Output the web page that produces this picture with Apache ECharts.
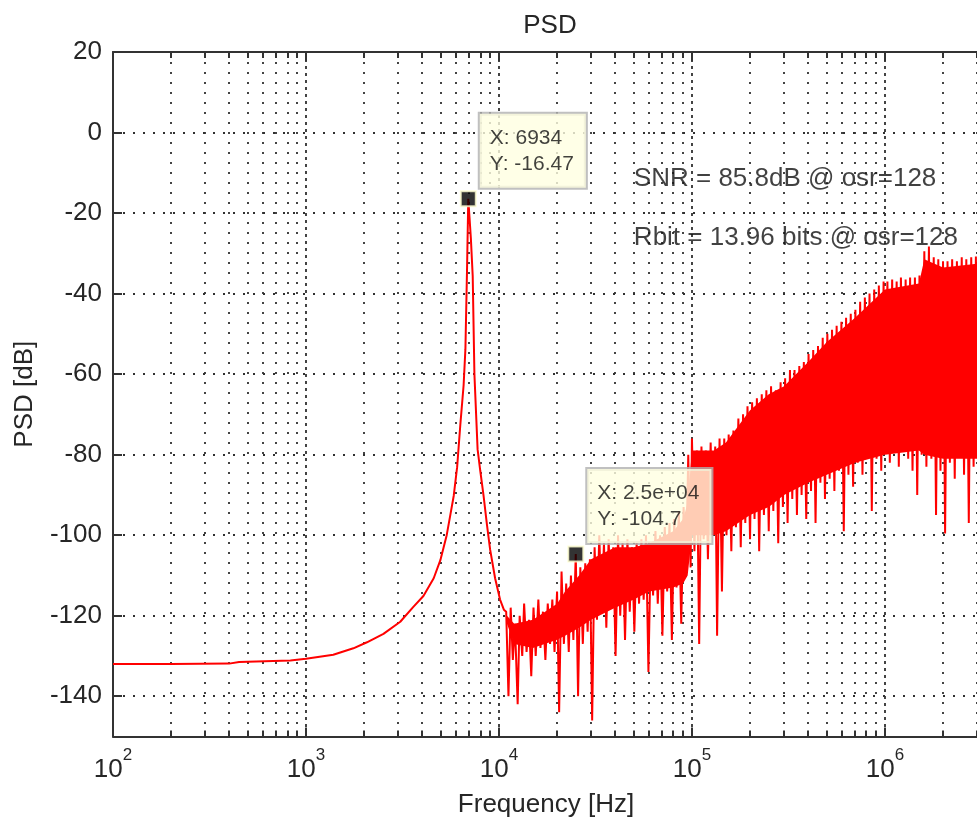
<!DOCTYPE html>
<html>
<head>
<meta charset="utf-8">
<script src="https://cdn.jsdelivr.net/npm/echarts@6/dist/echarts.min.js"></script>
<style>html,body{margin:0;padding:0;background:#fff}#chart{width:977px;height:821px}</style>
</head>
<body>
<div id="chart"></div>
<script>
// ---------- data ----------
const xMin = 100;
const xMax = 3072000;
const yMin = -150;
const yMax = 20;

const xMajorTicks = [100, 1000, 10000, 100000, 1000000];
const xMinorTicks = [200,300,400,500,600,700,800,900,
  2000,3000,4000,5000,6000,7000,8000,9000,
  20000,30000,40000,50000,60000,70000,80000,90000,
  200000,300000,400000,500000,600000,700000,800000,900000,
  2000000,3000000];
const yTicks = [-140, -120, -100, -80, -60, -40, -20, 0, 20];

// smooth part: flat floor + signal peak
const smoothFreq = [100, 200, 400, 450, 830, 1000, 1385, 1760, 2070, 2520, 3080, 3600, 4060, 4590, 4970, 5360, 5610, 5830, 6070, 6310, 6560, 6700, 6830, 6934, 7150, 7310, 7460, 7750, 8000, 8320, 8660, 9000, 9550, 10130, 10600];
const smoothPsd  = [-132, -132, -131.9, -131.5, -131.1, -130.7, -129.7, -128.1, -126.6, -124.5, -121.5, -117.8, -115.1, -110.7, -106.2, -100, -94.7, -90.2, -83.1, -72.4, -62.7, -53.8, -34.2, -16.47, -26.2, -35.6, -60, -78.7, -84, -90.2, -97.3, -103.6, -110.7, -116, -118.5];

// shaped noise, 10 kHz - 100 kHz (peaks and dips)
const noiseFreqA = [10900,11200,11500,11800,12100,12500,12800,13200,13500,13900,14300,14700,15100,15500,16000,16400,16900,17400,17900,18400,18900,19400,20000,20500,21100,21700,22300,23000,23600,24300,25000,25700,26400,27200,28000,28800,29600,30400,31300,32200,33100,34000,35000,36000,37000,38000,39100,40200,41400,42500,43700,45000,46300,47600,48900,50300,51700,53200,54700,56200,57800,59500,61200,62900,64700,66500,68400,70300,72300,74400,76500,78700,80900,83200,85500,88000,90500,93000,95700,98400];
const noisePsdA  = [-119,-140,-118,-131,-122,-142,-120,-130,-117,-129,-121,-135,-118,-130,-116,-128,-119,-131,-117,-127,-116,-129,-114,-144,-109,-127,-112,-129,-110,-126,-104.7,-140,-108,-127,-107,-124,-106,-146,-103,-121,-100,-119,-102,-123,-101,-118,-103,-130,-100,-120,-102,-126,-101,-119,-103,-124,-102,-117,-101,-116,-100,-134,-102,-115,-99,-117,-100,-125,-98,-114,-97,-126,-96,-113,-94,-122,-93,-110,-80,-108];

// shaped noise, 100 kHz - 1 MHz
const noiseFreqB = [100000,103000,106000,109000,112000,115000,118000,121000,125000,128000,132000,135000,139000,143000,147000,151000,155000,160000,164000,169000,174000,179000,184000,189000,194000,200000,205000,211000,217000,223000,230000,236000,243000,250000,257000,264000,272000,280000,288000,296000,304000,313000,322000,331000,340000,350000,360000,370000,380000,391000,402000,414000,425000,437000,450000,463000,476000,489000,503000,517000,532000,547000,562000,578000,595000,612000,629000,647000,665000,684000,703000,723000,744000,765000,787000,809000,832000,855000,880000,905000,930000,957000,984000];
const noisePsdB  = [-76,-104,-79,-127,-78,-101,-79,-106,-77,-99,-78,-125,-76,-114,-76,-100,-75,-104,-74,-98,-71,-103,-70,-97,-68,-101,-67,-96,-66,-104,-65,-95,-64,-99,-63,-94,-64,-102,-62,-93,-61,-97,-59,-91,-59,-95,-58,-90,-57,-96,-55,-89,-54,-97,-53,-87,-51,-91,-50,-86,-49,-89,-48,-84,-47,-99,-46,-85,-45,-88,-44,-82,-42,-85,-41,-80,-40,-94,-39,-81,-38,-84,-37];

// shaped noise, 1 MHz - fs/2
const noiseFreqC = [1000000,1030000,1060000,1090000,1120000,1150000,1180000,1210000,1250000,1280000,1320000,1350000,1390000,1430000,1470000,1510000,1550000,1600000,1640000,1690000,1740000,1790000,1840000,1890000,1940000,2000000,2050000,2110000,2170000,2230000,2300000,2360000,2430000,2500000,2570000,2640000,2720000,2800000,2880000,2960000,3040000,3130000];
const noisePsdC  = [-79,-37,-82,-36.5,-78,-37,-83,-36,-79,-36.5,-81,-36,-84,-36,-90,-35.5,-80,-29.5,-83,-28.3,-81,-31,-95,-31.5,-84,-32,-99.6,-32,-82,-31.5,-86,-32,-80,-31,-85,-31.5,-97,-31,-83,-30.8,-80,-31];

// solid core of the noise band (where the dense FFT bins overlap)
const coreFreq   = [11000, 12000, 15000, 20000, 22000, 26000, 30000, 40000, 50000, 60000, 80000, 90000, 95000, 100000, 130000, 150000, 200000, 250000, 300000, 400000, 500000, 700000, 1000000, 1500000, 1600000, 2000000, 3100000];
const coreTop    = [-120, -122, -121, -117, -114, -110, -106, -103, -103, -102, -99, -96, -92, -79, -79, -77, -69, -65, -63, -57, -52, -46, -39, -37.5, -31.5, -33.5, -32.5];
const coreBottom = [-122, -127, -128, -126, -125, -123, -121, -118, -116, -114, -113, -112, -110, -100, -100, -99, -95, -93, -90, -87, -85, -82, -80, -79, -80, -81, -81];

// data tips
const tipFreq = [6934, 25000];
const tipPsd = [-16.47, -104.7];
const tipXText = ['6934', '2.5e+04'];

// annotations
const annoText = ['SNR = 85.8dB @ osr=128', 'Rbit = 13.96 bits @ osr=128'];
const annoFreq = [50000, 50000];
const annoPsd = [-11.4, -26.2];

// ---------- chart ----------
const FONT = 'Liberation Sans, Arial, Helvetica, sans-serif';
const TXT = '#262626';
const AX = '#333333';
const GRID = '#303030';
const RED = '#ff0000';

function pairs(fs, vs) { return fs.map((f, i) => [f, vs[i]]); }
const psdData = pairs(smoothFreq, smoothPsd)
  .concat(pairs(noiseFreqA, noisePsdA))
  .concat(pairs(noiseFreqB, noisePsdB))
  .concat(pairs(noiseFreqC, noisePsdC));

function logAxis(extra) {
  return Object.assign({
    type: 'log', logBase: 10, min: xMin, max: xMax, gridIndex: 0,
    axisLine: { show: false, onZero: false },
    axisLabel: { show: false },
    splitLine: { show: false },
    minorTick: { show: false },
    minorSplitLine: { show: false }
  }, extra);
}

const chart = echarts.init(document.getElementById('chart'), null, { renderer: 'canvas' });
chart.setOption({
  animation: false,
  backgroundColor: '#ffffff',
  textStyle: { fontFamily: FONT },
  title: {
    text: 'PSD', left: 545, top: 8, textAlign: 'center',
    textStyle: { fontFamily: FONT, fontSize: 26, fontWeight: 'normal', color: TXT }
  },
  grid: { left: 113, top: 52, width: 866, height: 684.5, containLabel: false, outerBoundsMode: 'none' },
  xAxis: [
    logAxis({
      position: 'bottom',
      name: 'Frequency [Hz]', nameLocation: 'middle', nameGap: 55,
      nameTextStyle: { fontFamily: FONT, fontSize: 26, color: TXT },
      axisLine: { show: true, onZero: false, lineStyle: { color: AX, width: 2 } },
      axisTick: { show: true, inside: true, length: 9, customValues: xMajorTicks, lineStyle: { color: AX, width: 2 } },
      axisLabel: {
        show: true, customValues: xMajorTicks, margin: 10, color: TXT,
        formatter: v => '{b|10}{s|' + Math.round(Math.log10(v)) + '}',
        rich: {
          b: { fontFamily: FONT, fontSize: 26, lineHeight: 46, color: TXT },
          s: { fontFamily: FONT, fontSize: 17, verticalAlign: 'top', color: TXT }
        }
      },
      splitLine: { show: true, lineStyle: { type: [3, 4], color: GRID, width: 1.8 } }
    }),
    logAxis({
      position: 'bottom',
      axisTick: { show: true, inside: true, length: 6, customValues: xMinorTicks, lineStyle: { color: AX, width: 2 } },
      splitLine: { show: true, lineStyle: { type: [2, 8], color: GRID, width: 1.8 } }
    }),
    logAxis({
      position: 'top',
      axisLine: { show: true, onZero: false, lineStyle: { color: AX, width: 2 } },
      axisTick: { show: true, inside: true, length: 9, customValues: xMajorTicks, lineStyle: { color: AX, width: 2 } }
    }),
    logAxis({
      position: 'top',
      axisTick: { show: true, inside: true, length: 6, customValues: xMinorTicks, lineStyle: { color: AX, width: 2 } }
    })
  ],
  yAxis: [{
    type: 'value', min: yMin, max: yMax, position: 'left',
    name: 'PSD [dB]', nameLocation: 'middle', nameGap: 75, nameRotate: 90,
    nameTextStyle: { fontFamily: FONT, fontSize: 26, color: TXT },
    axisLine: { show: true, onZero: false, lineStyle: { color: AX, width: 2 } },
    axisTick: { show: true, inside: true, length: 9, customValues: yTicks, lineStyle: { color: AX, width: 2 } },
    axisLabel: { show: true, customValues: yTicks, margin: 11, fontFamily: FONT, fontSize: 26, color: TXT },
    splitLine: { show: true, lineStyle: { type: [2, 8], color: GRID, width: 1.8 } }
  }],
  series: [
    {
      name: 'PSD core', type: 'custom', xAxisIndex: 0, yAxisIndex: 0,
      coordinateSystem: 'cartesian2d', clip: true, silent: true, z: 3,
      data: [[coreFreq[0], coreTop[0]]],
      renderItem: function (params, api) {
        const top = coreFreq.map((f, i) => api.coord([f, coreTop[i]]));
        const bot = coreFreq.map((f, i) => api.coord([f, coreBottom[i]])).reverse();
        return { type: 'polygon', shape: { points: top.concat(bot) }, style: { fill: RED } };
      }
    },
    {
      name: 'PSD', type: 'line', xAxisIndex: 0, yAxisIndex: 0,
      data: psdData, showSymbol: false, symbol: 'none',
      lineStyle: { color: RED, width: 2 },
      z: 4, silent: true
    },
    {
      name: 'tips', type: 'scatter', xAxisIndex: 0, yAxisIndex: 0,
      data: pairs(tipFreq, tipPsd),
      symbol: 'rect', symbolSize: 15,
      itemStyle: { color: '#000000', borderColor: '#ffffd2', borderWidth: 2 },
      z: 6,
      label: {
        show: true, position: 'right', distance: 3, offset: [0, -11],
        align: 'left', verticalAlign: 'bottom',
        formatter: p => 'X: ' + tipXText[p.dataIndex] + '\nY: ' + tipPsd[p.dataIndex],
        fontFamily: FONT, fontSize: 21, lineHeight: 26, color: '#111111',
        backgroundColor: '#ffffe1', borderColor: '#b0b0b0', borderWidth: 2,
        padding: [11, 12, 11, 10]
      }
    },
    {
      name: 'notes', type: 'scatter', xAxisIndex: 0, yAxisIndex: 0,
      data: annoFreq.map((f, i) => ({ value: [f, annoPsd[i]], name: annoText[i] })),
      symbolSize: 0, z: 7, silent: true,
      label: {
        show: true, position: 'right', distance: 0, formatter: '{b}',
        fontFamily: FONT, fontSize: 26, color: '#111111'
      }
    }
  ]
});
</script>
</body>
</html>
